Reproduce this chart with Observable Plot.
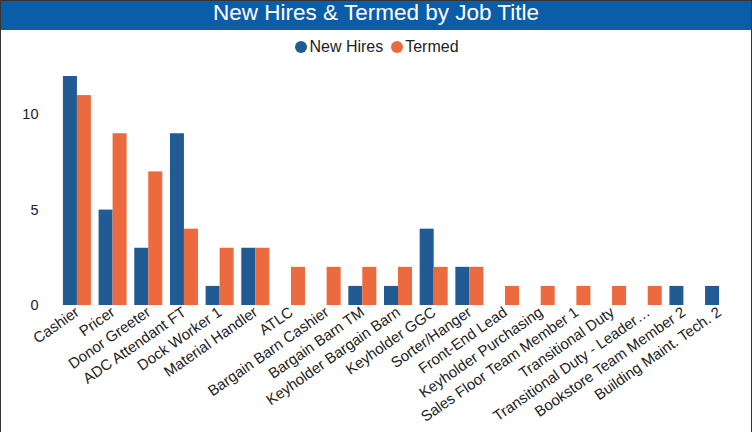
<!DOCTYPE html>
<html>
<head>
<meta charset="utf-8">
<script src="https://cdn.jsdelivr.net/npm/d3@7"></script>
<script src="https://cdn.jsdelivr.net/npm/@observablehq/plot@0.6"></script>
<style>
  html, body { margin: 0; padding: 0; background: #fff; }
  #frame { position: relative; width: 752px; height: 432px; overflow: hidden; font-family: "Liberation Sans", Arial, sans-serif; }
  #border { position: absolute; left: 0; top: 0; width: 750px; height: 440px; border: 1px solid #333; pointer-events: none; }
  #title { height: 30px; background: #0B5DA8; color: #fff; font-size: 22.5px; line-height: 25px; text-align: center; }
  #legend { height: 30px; padding-top: 4px; display: flex; justify-content: center; align-items: center; font-size: 16px; color: #222; padding-left: 2px; box-sizing: border-box; }
  .item { display: flex; align-items: center; margin: 0 4px; }
  .dot { width: 12px; height: 12px; border-radius: 50%; margin-right: 2px; }
  svg { display: block; }
</style>
</head>
<body>
<div id="frame">
  <div id="title">New Hires &amp; Termed by Job Title</div>
  <div id="legend"></div>
  <div id="chart"></div>
  <div id="border"></div>
</div>
<script>
const categories = ["Cashier", "Pricer", "Donor Greeter", "ADC Attendant FT", "Dock Worker 1", "Material Handler", "ATLC", "Bargain Barn Cashier", "Bargain Barn TM", "Keyholder Bargain Barn", "Keyholder GGC", "Sorter/Hanger", "Front-End Lead", "Keyholder Purchasing", "Sales Floor Team Member 1", "Transitional Duty", "Transitional Duty - Leader…", "Bookstore Team Member 2", "Building Maint. Tech. 2"];
const newHires = [12, 5, 3, 9, 1, 3, 0, 0, 1, 1, 4, 2, 0, 0, 0, 0, 0, 1, 1];
const termed   = [11, 9, 7, 4, 3, 3, 2, 2, 2, 2, 2, 2, 1, 1, 1, 1, 1, 0, 0];
const seriesNames = ["New Hires", "Termed"];
const seriesColors = ["#215B93", "#EC6A3D"];
const yTicks = [0, 5, 10];

const legend = document.getElementById("legend");
seriesNames.forEach((s, i) => {
  const it = document.createElement("div");
  it.className = "item";
  it.innerHTML = `<span class="dot" style="background:${seriesColors[i]}"></span><span>${s}</span>`;
  legend.appendChild(it);
});

const W = 752, H = 372, mL = 49, mR = 5, mT = 16, mB = 127;
const pIn = 0.215, pOut = 0.39;
const step = (W - mL - mR) / (categories.length - pIn + 2 * pOut);
const half = step * (1 - pIn) / 2;

const hiresData = categories.map((c, i) => ({cat: c, v: newHires[i]}));
const termData = categories.map((c, i) => ({cat: c, v: termed[i]}));

const chart = Plot.plot({
  width: W, height: H,
  marginLeft: mL, marginRight: mR, marginTop: mT, marginBottom: mB,
  style: {fontFamily: "Liberation Sans, Arial, sans-serif", fontSize: "15px", color: "#222", background: "transparent"},
  x: {domain: categories, paddingInner: pIn, paddingOuter: pOut, round: false, label: null},
  y: {domain: [0, 12], label: null},
  marks: [
    Plot.ruleY(yTicks, {x1: mL, x2: W - 7, stroke: "#999", strokeWidth: 1.2, strokeDasharray: "1.5,4.5"}),
    Plot.barY(hiresData, {x: "cat", y: "v", fill: seriesColors[0], insetRight: half}),
    Plot.barY(termData, {x: "cat", y: "v", fill: seriesColors[1], insetLeft: half}),
    Plot.axisY({ticks: yTicks, tickSize: 0, tickPadding: 11, label: null, fontSize: 14.5}),
    Plot.axisX({tickSize: 0, tickPadding: 5, tickRotate: -35, label: null, fontSize: 15})
  ]
});
document.getElementById("chart").appendChild(chart);
</script>
</body>
</html>
